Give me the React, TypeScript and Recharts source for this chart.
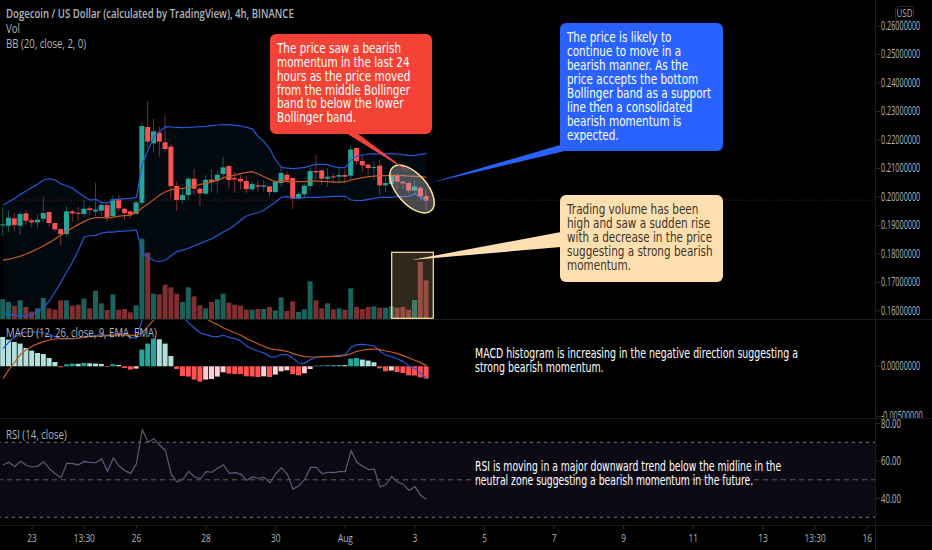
import React from "react";
import { ComposedChart, Bar, Line, Area, Cell, XAxis, YAxis, ReferenceLine, ReferenceArea } from "recharts";

const opens = [
  0.19004, 0.18992, 0.19249, 0.18992, 0.19425, 0.19179, 0.19109, 0.19238, 0.19472, 0.19086,
  0.18875, 0.187, 0.19495, 0.19448, 0.19402, 0.196, 0.19495, 0.19519, 0.19717, 0.19331,
  0.19916, 0.19589, 0.19495, 0.19402, 0.19799, 0.22455, 0.21882, 0.22256, 0.21917, 0.21765,
  0.20384, 0.19893, 0.20068, 0.20642, 0.20291, 0.20115, 0.20607, 0.20572, 0.20806, 0.21086,
  0.20665, 0.2063, 0.2056, 0.20267, 0.20408, 0.20361, 0.20373, 0.20174, 0.2049, 0.20782,
  0.20665, 0.1994, 0.20092, 0.20384, 0.20911, 0.20934, 0.20642, 0.20724, 0.20712, 0.20771,
  0.20747, 0.21718, 0.21262, 0.21133, 0.21016, 0.21098, 0.20408, 0.20455, 0.20771, 0.20537,
  0.2049, 0.20221, 0.20326, 0.20033,
];
const highs = [
  0.19659, 0.19542, 0.19448, 0.19483, 0.19542, 0.19249, 0.1939, 0.20033, 0.19478, 0.19086,
  0.18899, 0.19659, 0.19565, 0.19659, 0.19916, 0.19682, 0.20501, 0.19858, 0.19753, 0.20068,
  0.20068, 0.19612, 0.19542, 0.1987, 0.22619, 0.23368, 0.22736, 0.22467, 0.22877, 0.21882,
  0.20537, 0.20302, 0.20712, 0.20981, 0.20361, 0.20771, 0.20969, 0.20946, 0.21414, 0.21122,
  0.20888, 0.20771, 0.20712, 0.20537, 0.20595, 0.20595, 0.20384, 0.20595, 0.21086, 0.20888,
  0.20665, 0.20186, 0.20478, 0.2104, 0.21473, 0.20969, 0.21005, 0.20829, 0.2104, 0.21005,
  0.21824, 0.2173, 0.21437, 0.2118, 0.21239, 0.21297, 0.20712, 0.20829, 0.20829, 0.20595,
  0.20537, 0.20595, 0.20384, 0.20244,
];
const lows = [
  0.18629, 0.18781, 0.18805, 0.18664, 0.19015, 0.18934, 0.18934, 0.19132, 0.18957, 0.18781,
  0.18313, 0.18606, 0.19132, 0.19168, 0.19285, 0.19367, 0.19331, 0.19308, 0.19132, 0.19308,
  0.19483, 0.19191, 0.19249, 0.1939, 0.19717, 0.21706, 0.2159, 0.21414, 0.2159, 0.19952,
  0.19507, 0.19753, 0.19893, 0.20068, 0.19682, 0.20068, 0.20186, 0.20127, 0.20653, 0.20302,
  0.2015, 0.20267, 0.20127, 0.20186, 0.20186, 0.20186, 0.2001, 0.20127, 0.20361, 0.20478,
  0.19577, 0.19916, 0.19952, 0.20244, 0.20595, 0.2042, 0.20361, 0.20478, 0.20478, 0.20478,
  0.20595, 0.21122, 0.20888, 0.20771, 0.20595, 0.20068, 0.20186, 0.20361, 0.20302, 0.20302,
  0.20127, 0.20068, 0.19893, 0.19542,
];
const closes = [
  0.19039, 0.19273, 0.19015, 0.19402, 0.19168, 0.19109, 0.19203, 0.19437, 0.19086, 0.18863,
  0.187, 0.19495, 0.19425, 0.19413, 0.19589, 0.19542, 0.19554, 0.19717, 0.19285, 0.19916,
  0.196, 0.19437, 0.1939, 0.19811, 0.2249, 0.2194, 0.22303, 0.2194, 0.21683, 0.20384,
  0.19893, 0.20068, 0.20642, 0.20291, 0.20127, 0.20607, 0.20537, 0.20782, 0.2104, 0.20595,
  0.20618, 0.20548, 0.20279, 0.20455, 0.20361, 0.20408, 0.20174, 0.20537, 0.20841, 0.20583,
  0.1994, 0.20104, 0.20396, 0.20911, 0.20864, 0.20642, 0.20712, 0.20689, 0.20771, 0.20712,
  0.21671, 0.21262, 0.2111, 0.21016, 0.21051, 0.20408, 0.2049, 0.20771, 0.20537, 0.20478,
  0.20221, 0.20373, 0.2001, 0.1987,
];
const volumes = [
  29.5, 25.5, 20, 28, 18, 11, 16, 31.5, 16, 14,
  28, 28, 20, 21.5, 30.5, 16, 42.5, 23.5, 13.5, 37,
  14, 15, 10, 20.5, 120.5, 99.5, 38, 37, 51.5, 47.5,
  38, 25.5, 47.5, 34, 20.5, 16, 25.5, 29.5, 38, 24.5,
  21.5, 20, 14, 14, 15, 15, 18, 13, 32.5, 12,
  26.5, 10.5, 14.5, 56.5, 28, 16, 23.5, 14.5, 16, 14,
  46, 18, 15, 18, 19, 17, 17, 19, 17, 18,
  14, 28.5, 85.5, 58,
];
const bbUpper = [
  0.19717, 0.19834, 0.19951, 0.20092, 0.20221, 0.20338, 0.20455, 0.20595, 0.20642, 0.20595,
  0.20455, 0.20396, 0.20302, 0.2015, 0.2001, 0.19893, 0.19916, 0.19811, 0.19788, 0.19916,
  0.19928, 0.1994, 0.19951, 0.19987, 0.21157, 0.21648, 0.22116, 0.22291, 0.22467, 0.22455,
  0.22444, 0.22432, 0.22444, 0.22455, 0.22467, 0.22479, 0.22502, 0.22526, 0.22537, 0.22537,
  0.22514, 0.2249, 0.22444, 0.22385, 0.22116, 0.2194, 0.21683, 0.21297, 0.2104, 0.21016,
  0.20993, 0.21016, 0.2104, 0.21098, 0.21145, 0.21145, 0.21133, 0.21063, 0.21028, 0.2104,
  0.21297, 0.21437, 0.21473, 0.21508, 0.21519, 0.21508, 0.21519, 0.21519, 0.21508, 0.21484,
  0.21449, 0.21461, 0.21496, 0.21531,
];
const bbBasis = [
  0.17787, 0.17822, 0.17869, 0.17927, 0.17998, 0.18091, 0.18185, 0.1829, 0.18407, 0.18536,
  0.18664, 0.18805, 0.18922, 0.19039, 0.19144, 0.19238, 0.19273, 0.19273, 0.19261, 0.19296,
  0.19331, 0.19343, 0.19366, 0.1946, 0.19624, 0.19764, 0.19916, 0.20068, 0.20185, 0.20256,
  0.20291, 0.20302, 0.20338, 0.20384, 0.20443, 0.20478, 0.20525, 0.20583, 0.20677, 0.20712,
  0.2077, 0.20817, 0.20864, 0.20887, 0.20806, 0.20712, 0.20618, 0.20536, 0.2056, 0.20548,
  0.20525, 0.20536, 0.20536, 0.2056, 0.2056, 0.20548, 0.20536, 0.20525, 0.20525, 0.20536,
  0.20595, 0.20642, 0.20677, 0.20712, 0.20735, 0.20747, 0.20747, 0.20759, 0.20759, 0.20747,
  0.20735, 0.20724, 0.20712, 0.20689,
];
const bbLower = [
  0.15915, 0.15868, 0.15845, 0.15821, 0.15821, 0.15868, 0.15973, 0.16114, 0.1636, 0.16675,
  0.17026, 0.17377, 0.17728, 0.18138, 0.18606, 0.18641, 0.18653, 0.18735, 0.1877, 0.1877,
  0.18793, 0.18805, 0.18817, 0.1884, 0.18021, 0.17904, 0.17764, 0.17728, 0.17787, 0.17939,
  0.18091, 0.18138, 0.18208, 0.1829, 0.18372, 0.18454, 0.18536, 0.18653, 0.18781, 0.18875,
  0.19015, 0.19191, 0.19331, 0.19402, 0.19448, 0.19542, 0.19682, 0.19823, 0.19987, 0.2001,
  0.19951, 0.19951, 0.19987, 0.19987, 0.19987, 0.19998, 0.2001, 0.20022, 0.20022, 0.20022,
  0.19893, 0.1987, 0.19881, 0.19916, 0.19951, 0.19987, 0.19998, 0.19987, 0.20022, 0.2001,
  0.20033, 0.20104, 0.19987, 0.1987,
];
const macdLine = [
  0.00177, 0.00243, 0.00293, 0.00327, 0.00343, 0.00343, 0.00343, 0.00333, 0.00317, 0.00293,
  0.00277, 0.00277, 0.00277, 0.0028, 0.00293, 0.00303, 0.00307, 0.00317, 0.0031, 0.00323,
  0.00327, 0.00317, 0.0029, 0.00283, 0.00467, 0.00617, 0.00683, 0.00733, 0.0075, 0.00717,
  0.00583, 0.005, 0.00433, 0.00383, 0.00333, 0.00317, 0.003, 0.00297, 0.0031, 0.0029,
  0.00277, 0.0025, 0.002, 0.00173, 0.0015, 0.00133, 0.00097, 0.00093, 0.00117, 0.00117,
  0.00077, 0.00033, 0.0003, 0.00067, 0.0009, 0.00097, 0.001, 0.00103, 0.0011, 0.00117,
  0.0019, 0.00217, 0.0022, 0.00213, 0.00203, 0.0015, 0.0011, 0.00097, 0.00073, 0.00047,
  0, -0.00023, -0.00067, -0.00117,
];
const macdSignal = [
  -0.00123, -0.00033, 0.00043, 0.00117, 0.00167, 0.002, 0.00227, 0.00247, 0.00263, 0.00273,
  0.00277, 0.00277, 0.00277, 0.00283, 0.0029, 0.00297, 0.003, 0.00303, 0.00307, 0.0031,
  0.00313, 0.00313, 0.0031, 0.0031, 0.00337, 0.004, 0.00467, 0.00533, 0.00583, 0.00617,
  0.00617, 0.006, 0.00577, 0.0055, 0.0051, 0.00477, 0.00443, 0.00417, 0.00383, 0.0036,
  0.00333, 0.0031, 0.00277, 0.0025, 0.00223, 0.002, 0.00177, 0.00167, 0.0016, 0.0015,
  0.00127, 0.0011, 0.00097, 0.00093, 0.00093, 0.00097, 0.00097, 0.001, 0.001, 0.0011,
  0.00127, 0.0015, 0.00163, 0.0017, 0.00173, 0.00167, 0.00153, 0.00143, 0.00127, 0.00107,
  0.00083, 0.0006, 0.00037, 0.00007,
];
const macdHist = [
  0.00293, 0.00267, 0.00243, 0.00227, 0.00183, 0.00157, 0.00133, 0.00123, 0.00083, 0.00043,
  -0.0001, 0.0002, 0.00027, 0.00025, 0.00033, 0.0003, 0.00027, 0.00023, -0.00007, 0.0002,
  0.00013, -0.00017, -0.00033, -0.00023, 0.00167, 0.00227, 0.00277, 0.0027, 0.00227, 0.00103,
  -0.00027, -0.00097, -0.00103, -0.00133, -0.00153, -0.00133, -0.00127, -0.00103, -0.0006, -0.00073,
  -0.00077, -0.00078, -0.001, -0.00102, -0.00107, -0.001, -0.00107, -0.00083, -0.0005, -0.0004,
  -0.00077, -0.0009, -0.0007, -0.00027, 0.00007, 0.00008, 0.0001, 0.00012, 0.00013, 0.00012,
  0.00077, 0.00083, 0.00067, 0.00057, 0.0004, -0.0002, -0.0005, -0.00043, -0.00057, -0.00067,
  -0.0009, -0.00092, -0.0011, -0.00123,
];
const rsiValues = [
  57.9, 59.3, 57.0, 59.8, 57.7, 56.8, 57.3, 59.6, 55.9, 53.2,
  51.1, 58.9, 58.6, 58.0, 59.8, 59.3, 59.1, 61.1, 54.5, 61.6,
  57.3, 54.8, 53.4, 58.7, 76.7, 70.0, 71.9, 68.4, 65.5, 52.7,
  48.8, 50.2, 54.5, 51.6, 50.6, 54.3, 54.0, 56.1, 58.0, 53.4,
  53.8, 53.0, 49.7, 51.5, 50.8, 51.3, 48.4, 53.2, 56.3, 53.0,
  45.0, 46.8, 50.2, 56.6, 56.6, 53.2, 54.0, 53.8, 54.3, 54.3,
  65.5, 59.3, 57.2, 55.4, 55.6, 46.1, 47.4, 51.6, 48.8, 47.5,
  44.3, 46.3, 41.7, 39.4,
];
const priceTicks = [0.16, 0.17, 0.18, 0.19, 0.2, 0.21, 0.22, 0.23, 0.24, 0.25, 0.26];
const macdTicks = [0, -0.005];
const rsiTicks = [40, 60, 80];
const timeSlots = [5, 14, 23, 35, 47, 59, 71, 83, 95, 107, 119, 131, 140, 149];
const timeLabels = ["23", "13:30", "26", "28", "30", "Aug", "3", "5", "7", "9", "11", "13", "13:30", "16"];
const lastPrice = 0.1989;

const redText = ["The price saw a bearish", "momentum in the last 24", "hours as the price moved", "from the middle Bollinger", "band to below the lower", "Bollinger band."];
const blueText = ["The price is likely to", "continue to move in a", "bearish manner. As the", "price accepts the bottom", "Bollinger band as a support", "line then a consolidated", "bearish momentum is", "expected."];
const peachText = ["Trading volume has been", "high and saw a sudden rise", "with a decrease in the price", "suggesting a strong bearish", "momentum."];
const macdNote = ["MACD histogram is increasing in the negative direction suggesting a", "strong bearish momentum."];
const rsiNote = ["RSI is moving in a major downward trend below the midline in the", "neutral zone suggesting a bearish momentum in the future."];

const SLOTS = 151;
const rows = Array.from({ length: SLOTS }, (_, i) =>
  i < opens.length
    ? {
        slot: i,
        open: opens[i],
        high: highs[i],
        low: lows[i],
        close: closes[i],
        range: [lows[i], highs[i]],
        volume: volumes[i],
        upper: bbUpper[i],
        basis: bbBasis[i],
        lower: bbLower[i],
        band: [bbLower[i], bbUpper[i]],
        macd: macdLine[i],
        signal: macdSignal[i],
        hist: macdHist[i],
        rsi: rsiValues[i],
      }
    : { slot: i }
);

const GREEN = "#26a69a";
const RED = "#ff5252";
const AXIS = "#b2b5be";
const UI_FONT = "'Open Sans', sans-serif";
const NOTE_FONT = "'DejaVu Sans', sans-serif";
const MARGIN = { top: 0, right: 56, bottom: 0, left: 0.2 };
const MARGIN_AXIS = { top: 0, right: 0, bottom: 0, left: 0.2 };

const Candle = (p: any) => {
  const { x, y, width, height, payload } = p;
  if (payload == null || payload.open == null || !Number.isFinite(y)) return null;
  const { open, high, low, close } = payload;
  const yOf = (v: number) => y + ((high - v) / (high - low)) * height;
  const up = close >= open;
  const color = up ? GREEN : RED;
  const top = yOf(Math.max(open, close));
  const bot = yOf(Math.min(open, close));
  const mid = x + width / 2;
  return (
    <g>
      <line x1={mid} x2={mid} y1={y} y2={y + height} stroke={color} strokeOpacity={0.5} strokeWidth={1} />
      <rect x={x} y={top} width={width} height={Math.max(bot - top, 1)} fill={color} />
    </g>
  );
};

const Squeezed = ({ x, y, sx = 0.8, size = 11, fill = AXIS, anchor = "start", weight = 400, font = UI_FONT, children }: any) => (
  <text transform={`translate(${x} ${y}) scale(${sx} 1)`} fontFamily={font} fontSize={size} fontWeight={weight} fill={fill} textAnchor={anchor}>
    {children}
  </text>
);

const yTick = (digits: number) => (p: any) => (
  <Squeezed x={881} y={p.y + 4} sx={digits > 2 ? 0.605 : 0.65} size={12}>
    {Number(p.payload.value).toFixed(digits)}
  </Squeezed>
);
const xTick = (p: any) => (
  <Squeezed x={p.x} y={p.y + 11} sx={0.72} size={11.5} anchor="middle">
    {timeLabels[timeSlots.indexOf(p.payload.value)]}
  </Squeezed>
);

const histColor = (i: number) => {
  const v = macdHist[i];
  const prev = i > 0 ? macdHist[i - 1] : v + 1;
  if (v >= 0) return v > prev ? GREEN : "#b2dfdb";
  return v < prev ? RED : "#ffcdd2";
};

const Notes = ({ x, y, lines, fill, step = 14, sx = 0.72, size = 14.5 }: any) => (
  <g>
    {lines.map((t: string, i: number) => (
      <Squeezed key={i} x={x} y={y + i * step} sx={sx} size={size} fill={fill} font={NOTE_FONT}>
        {t}
      </Squeezed>
    ))}
  </g>
);

const pane = (top: number): React.CSSProperties => ({ position: "absolute", left: 0, top });

export default function App() {
  return (
    <div style={{ position: "absolute", left: 0, top: 0, width: 932, height: 550, background: "#000", overflow: "hidden" }}>
      <div style={pane(0)}>
        <ComposedChart width={932} height={319} data={rows} margin={MARGIN}>
          <XAxis dataKey="slot" scale="band" hide />
          <YAxis hide domain={[0, 478.5]} allowDataOverflow />
          <Bar dataKey="volume" barSize={5} isAnimationActive={false}>
            {rows.map((_, i) => (
              <Cell key={i} fill={i < opens.length && closes[i] < opens[i] ? "#7f2f2f" : "#1a635c"} />
            ))}
          </Bar>
        </ComposedChart>
      </div>
      <div style={pane(0)}>
        <ComposedChart width={932} height={319} data={rows} margin={MARGIN_AXIS}>
          <XAxis dataKey="slot" scale="band" hide />
          <YAxis
            orientation="right"
            width={56}
            domain={[0.15719, 0.26912]}
            allowDataOverflow
            ticks={priceTicks}
            interval={0}
            axisLine={false}
            tickLine={{ stroke: "#2a2a2a" }}
            tickSize={4}
            tick={yTick(8)}
          />
          <Area dataKey="band" stroke="none" fill="#2196f3" fillOpacity={0.06} isAnimationActive={false} dot={false} activeDot={false} />
          <ReferenceLine y={lastPrice} stroke="#6b1f1f" strokeDasharray="1 2" />
          <Line dataKey="upper" stroke="#2456d6" strokeWidth={1.2} dot={false} isAnimationActive={false} />
          <Line dataKey="lower" stroke="#2456d6" strokeWidth={1.2} dot={false} isAnimationActive={false} />
          <Line dataKey="basis" stroke="#c4591c" strokeWidth={1.2} dot={false} isAnimationActive={false} />
          <Bar dataKey="range" barSize={5} shape={Candle} isAnimationActive={false} />
        </ComposedChart>
      </div>
      <div style={pane(320)}>
        <ComposedChart width={932} height={99} data={rows} margin={MARGIN_AXIS}>
          <XAxis dataKey="slot" scale="band" hide />
          <YAxis
            orientation="right"
            width={56}
            domain={[-0.00527, 0.00463]}
            allowDataOverflow
            ticks={macdTicks}
            interval={0}
            axisLine={false}
            tickLine={{ stroke: "#2a2a2a" }}
            tickSize={4}
            tick={yTick(8)}
          />
          <Bar dataKey="hist" barSize={5} isAnimationActive={false}>
            {rows.map((_, i) => (
              <Cell key={i} fill={i < opens.length ? histColor(i) : "none"} />
            ))}
          </Bar>
          <Line dataKey="macd" stroke="#2456d6" strokeWidth={1.2} dot={false} isAnimationActive={false} />
          <Line dataKey="signal" stroke="#c4591c" strokeWidth={1.2} dot={false} isAnimationActive={false} />
        </ComposedChart>
      </div>
      <div style={pane(419)}>
        <ComposedChart width={932} height={131} data={rows} margin={MARGIN_AXIS}>
          <XAxis
            dataKey="slot"
            scale="band"
            height={25}
            ticks={timeSlots}
            interval={0}
            axisLine={false}
            tickLine={{ stroke: "#2a2a2a" }}
            tickSize={4}
            tick={xTick}
          />
          <YAxis
            orientation="right"
            width={56}
            domain={[25.87, 82.4]}
            allowDataOverflow
            ticks={rsiTicks}
            interval={0}
            axisLine={false}
            tickLine={{ stroke: "#2a2a2a" }}
            tickSize={4}
            tick={yTick(2)}
          />
          <ReferenceArea y1={30} y2={70} fill="#7e57c2" fillOpacity={0.1} stroke="none" />
          <ReferenceLine y={70} stroke="#787b86" strokeDasharray="3 4" />
          <ReferenceLine y={50} stroke="#787b86" strokeOpacity={0.7} strokeDasharray="5 4" />
          <ReferenceLine y={30} stroke="#787b86" strokeDasharray="3 4" />
          <Line dataKey="rsi" stroke="#5e5a7a" strokeWidth={1.2} dot={false} isAnimationActive={false} />
        </ComposedChart>
      </div>

      <svg width={932} height={550} style={{ position: "absolute", left: 0, top: 0 }}>
        <line x1={875.5} x2={875.5} y1={0} y2={550} stroke="#1c1c1c" />
        <line x1={0} x2={932} y1={319.5} y2={319.5} stroke="#1c1c1c" />
        <line x1={0} x2={932} y1={418.5} y2={418.5} stroke="#1c1c1c" />
        <line x1={0} x2={932} y1={525.5} y2={525.5} stroke="#1c1c1c" />

        <Squeezed x={6} y={18} sx={0.8} size={12} weight={600}>Dogecoin / US Dollar (calculated by TradingView), 4h, BINANCE</Squeezed>
        <Squeezed x={6} y={33} sx={0.8} size={12}>Vol</Squeezed>
        <Squeezed x={6} y={48} sx={0.8} size={12}>BB (20, close, 2, 0)</Squeezed>
        <Squeezed x={6} y={337} sx={0.8} size={12}>MACD (12, 26, close, 9, EMA, EMA)</Squeezed>
        <Squeezed x={6} y={439} sx={0.8} size={12}>RSI (14, close)</Squeezed>
        <rect x={895.5} y={6.5} width={18} height={14} rx={3} fill="none" stroke="#2a2a2a" />
        <Squeezed x={904.5} y={17} sx={0.72} size={11} anchor="middle">USD</Squeezed>

        <ellipse cx={412} cy={189} rx={29} ry={15} transform="rotate(48.7 412 189)" fill="#b2b5be" fillOpacity={0.4} stroke="#ffe599" strokeWidth={1.5} />
        <rect x={391.7} y={252.3} width={41.6} height={66} fill="#ffe599" fillOpacity={0.18} stroke="#ffe599" strokeWidth={1.2} />

        <polygon points="346,133 357,133 409,172" fill="#f44336" />
        <rect x={270} y={34} width={162} height={100} rx={6} fill="#f44336" />
        <Notes x={277} y={53} lines={redText} fill="#fff" step={13.85} />

        <polygon points="430,183 560,145 565,151" fill="#2962ff" />
        <rect x={560} y={23} width={163} height={128} rx={6} fill="#2962ff" />
        <Notes x={567} y={42} lines={blueText} fill="#fff" />

        <polygon points="411,260 561,232 561,247" fill="#ffdfb0" />
        <rect x={560} y={195} width={163} height={87} rx={6} fill="#ffdfb0" />
        <Notes x={567} y={214} lines={peachText} fill="#3a3528" />

        <Notes x={475} y={358} lines={macdNote} fill="#fff" sx={0.65} />
        <Notes x={475} y={471} lines={rsiNote} fill="#fff" sx={0.64} />
      </svg>
    </div>
  );
}
